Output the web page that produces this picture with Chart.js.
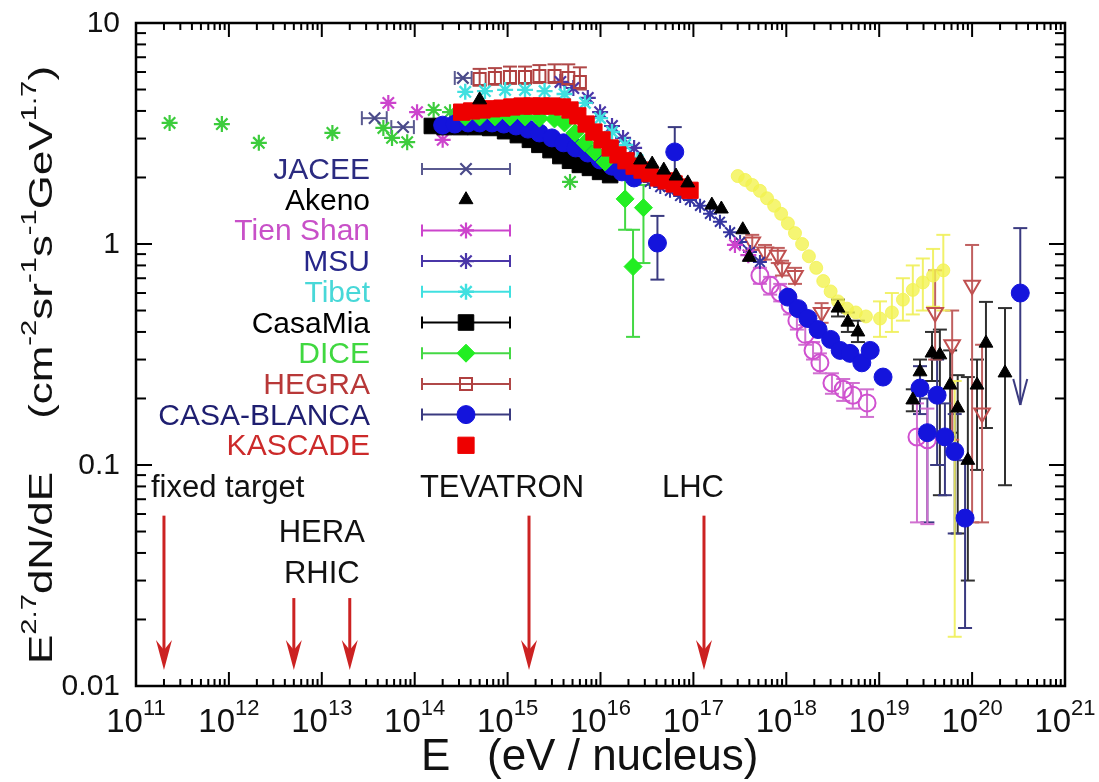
<!DOCTYPE html>
<html>
<head>
<meta charset="utf-8">
<title>Cosmic ray spectrum</title>
<script src="https://cdn.jsdelivr.net/npm/chart.js@4.4.0/dist/chart.umd.min.js"></script>
<style>
  html, body { margin: 0; padding: 0; background: #fff; }
  canvas { display: block; }
</style>
</head>
<body>
<canvas id="chart" width="1099" height="782"></canvas>
<script>
// ---- axis ticks ----
const xTickExps = [11, 12, 13, 14, 15, 16, 17, 18, 19, 20, 21];
const yTickValues = [0.01, 0.1, 1, 10];
const yTickLabels = ['0.01', '0.1', '1', '10'];

// ---- data (E in eV, flux E^2.7 dN/dE) ----
const directE = [2.3e11, 8.4e11, 2.1e12, 1.3e13, 4.6e13, 5.7e13, 8.3e13, 1.6e14, 2.4e14, 4.7e15];
const directF = [3.53, 3.49, 2.87, 3.18, 3.35, 3.02, 2.89, 4.04, 3.95, 1.91];

const jaceeE = [3.7e13, 7.5e13, 3.3e14];
const jaceeF = [3.71, 3.38, 5.64];
const jaceeXLo = [2.7e13, 5.6e13, 2.7e14];
const jaceeXHi = [5.0e13, 9.8e13, 4.1e14];

const akenoE = [5.0e14, 2.7e16, 3.6e16, 4.8e16, 6.5e16, 8.7e16, 1.58e17, 2.0e17, 3.4e17, 4.0e17,
  3.6e18, 4.6e18, 5.9e18, 2.3e19, 2.75e19, 3.7e19, 4.5e19, 5.8e19, 7.0e19, 9.0e19, 1.13e20, 1.41e20, 2.26e20];
const akenoF = [4.49, 2.40, 2.30, 2.16, 2.03, 1.89, 1.50, 1.44, 1.16, 0.87,
  0.513, 0.443, 0.40, 0.197, 0.264, 0.321, 0.315, 0.230, 0.181, 0.105, 0.230, 0.356, 0.261];
const akenoLo = [null, null, null, null, null, null, null, null, null, null,
  0.47, 0.40, 0.36, 0.175, 0.21, 0.24, 0.073, 0.14, 0.049, 0.030, 0.095, 0.147, 0.081];
const akenoHi = [null, null, null, null, null, null, null, null, null, null,
  0.56, 0.49, 0.45, 0.22, 0.30, 0.40, 0.41, 0.33, 0.255, 0.25, 0.30, 0.547, 0.513];

const tienShanE = [5.2e13, 1.06e14, 2.0e14, 2.8e17, 3.9e17];
const tienShanF = [4.35, 3.95, 2.96, 0.99, 0.89];

const msuE = [3.7e15, 5.1e15, 7.3e15, 9.9e15, 1.33e16, 1.75e16, 2.3e16];
const msuF = [5.41, 5.08, 4.58, 3.95, 3.42, 3.02, 2.72];

const tibetE = [3.5e14, 5.7e14, 9.4e14, 1.54e15, 2.5e15, 4.1e15, 6.8e15, 9.9e15, 1.33e16, 1.84e16, 2.5e16, 3.4e16];
const tibetF = [4.88, 4.92, 4.98, 4.98, 4.92, 4.77, 4.35, 3.71, 3.21, 2.81, 2.40, 2.05];

const casaMiaE = [1.53e14, 2.1e14, 3.1e14, 4.5e14, 6.5e14, 9.4e14, 1.29e15, 1.74e15, 2.2e15, 2.9e15,
  3.7e15, 4.7e15, 6.0e15, 7.7e15, 9.9e15, 1.27e16];
const casaMiaF = [3.42, 3.38, 3.38, 3.38, 3.35, 3.24, 3.11, 2.96, 2.81, 2.66,
  2.50, 2.38, 2.28, 2.21, 2.12, 2.05];

const diceE = [3.5e14, 5.0e14, 7.3e14, 1.06e15, 1.54e15, 2.2e15, 3.2e15, 4.1e15, 5.3e15, 6.8e15,
  8.7e15, 1.12e16, 1.84e16, 2.9e16, 2.24e16];
const diceF = [3.76, 3.76, 3.76, 3.76, 3.76, 3.71, 3.68, 3.53, 3.18, 2.87,
  2.61, 2.35, 1.60, 1.46, 0.79];
const diceLo = [null, null, null, null, null, null, null, null, null, null, null, null, 1.16, 0.82, 0.38];
const diceHi = [null, null, null, null, null, null, null, null, null, null, null, null, 2.05, 1.85, 1.16];

const hegraE = [5.0e14, 7.3e14, 1.06e15, 1.54e15, 2.2e15, 3.2e15, 4.5e15, 6.0e15];
const hegraF = [5.58, 5.64, 5.70, 5.70, 5.76, 5.76, 5.64, 5.41];
const hegraLo = [5.2, 5.25, 5.3, 5.3, 5.35, 5.35, 5.25, 5.0];
const hegraHi = [6.2, 6.25, 6.35, 6.35, 6.45, 6.5, 6.5, 6.3];

const casaBlancaE = [2.0e14, 2.7e14, 3.75e14, 5.0e14, 6.8e14, 9.1e14, 1.23e15, 1.66e15, 2.2e15, 3.0e15,
  4.0e15, 5.4e15, 7.3e15, 9.9e15, 1.33e16, 1.7e16, 2.3e16, 4.1e16, 6.3e16];
const casaBlancaF = [3.45, 3.49, 3.53, 3.53, 3.53, 3.49, 3.42, 3.31, 3.18, 3.02,
  2.87, 2.72, 2.58, 2.40, 2.25, 2.12, 1.99, 1.01, 2.61];
const casaBlancaLo = [null, null, null, null, null, null, null, null, null, null,
  null, null, null, null, null, null, null, 0.69, 2.01];
const casaBlancaHi = [null, null, null, null, null, null, null, null, null, null,
  null, null, null, null, null, null, null, 1.34, 3.38];

const kascadeE = [3.2e14, 4.1e14, 5.3e14, 6.8e14, 8.7e14, 1.11e15, 1.43e15, 1.83e15, 2.3e15, 3.0e15,
  3.9e15, 4.7e15, 5.7e15, 7.0e15, 8.5e15, 1.04e16, 1.27e16, 1.54e16, 1.88e16, 2.3e16,
  2.8e16, 3.4e16, 4.2e16, 5.1e16, 6.2e16, 7.5e16, 9.2e16];
const kascadeF = [3.95, 4.00, 4.04, 4.09, 4.12, 4.17, 4.21, 4.21, 4.21, 4.21,
  4.17, 4.04, 3.80, 3.49, 3.21, 2.96, 2.72, 2.53, 2.38, 2.25,
  2.16, 2.08, 1.99, 1.93, 1.87, 1.81, 1.75];

// unlabelled sets
const steepE = [3.4e16, 4.4e16, 5.6e16, 7.2e16, 9.2e16, 1.18e17, 1.51e17, 1.93e17, 2.48e17, 3.18e17, 4.07e17, 5.2e17];
const steepF = [1.91, 1.81, 1.74, 1.65, 1.58, 1.49, 1.37, 1.26, 1.13, 1.02, 0.92, 0.83];

const yellowE = [3.0e17, 3.6e17, 4.3e17, 5.2e17, 6.2e17, 7.4e17, 8.8e17, 1.04e18, 1.24e18, 1.48e18,
  1.75e18, 2.1e18, 2.5e18, 3.0e18, 3.6e18, 4.5e18, 5.6e18, 7.2e18, 1.02e19, 1.37e19,
  1.8e19, 2.3e19, 2.95e19, 3.8e19, 4.9e19, 6.5e19];
const yellowF = [2.03, 1.95, 1.85, 1.74, 1.61, 1.49, 1.37, 1.24, 1.12, 1.0,
  0.88, 0.78, 0.68, 0.61, 0.55, 0.51, 0.49, 0.47, 0.46, 0.49,
  0.56, 0.62, 0.67, 0.72, 0.76, 0.117];
const yellowLo = [null, null, null, null, null, null, null, null, null, null,
  null, null, null, null, null, null, null, null, 0.38, 0.40,
  0.45, 0.48, 0.50, 0.52, 0.50, 0.0167];
const yellowHi = [null, null, null, null, null, null, null, null, null, null,
  null, null, null, null, null, null, null, null, 0.55, 0.60,
  0.70, 0.80, 0.86, 0.95, 1.10, 0.24];

const openCircE = [5.2e17, 6.7e17, 8.6e17, 1.1e18, 1.3e18, 1.6e18, 1.94e18, 2.3e18, 3.1e18, 4.1e18, 5.2e18, 7.4e18, 2.55e19, 3.3e19];
const openCircF = [0.72, 0.65, 0.60, 0.53, 0.45, 0.39, 0.33, 0.29, 0.235, 0.22, 0.207, 0.191, 0.134, 0.130];
const openCircLo = [0.66, 0.59, 0.55, 0.48, 0.41, 0.35, 0.30, 0.26, 0.21, 0.195, 0.18, 0.165, 0.055, 0.054];
const openCircHi = [0.78, 0.71, 0.66, 0.58, 0.49, 0.43, 0.36, 0.32, 0.26, 0.245, 0.235, 0.22, 0.19, 0.18];

const downTriE = [4.3e17, 5.9e17, 8.1e17, 9.0e17, 1.24e18, 2.4e18, 4.0e19, 6.1e19, 1.0e20, 1.28e20];
const downTriF = [1.02, 0.92, 0.89, 0.78, 0.72, 0.49, 0.49, 0.35, 0.65, 0.172];
const downTriLo = [0.94, 0.85, 0.82, 0.72, 0.66, 0.44, 0.30, 0.13, 0.055, 0.055];
const downTriHi = [1.10, 0.99, 0.96, 0.84, 0.78, 0.54, 0.76, 0.50, 0.99, 0.35];

const blueHighE = [1.04e18, 1.34e18, 1.71e18, 2.2e18, 3.0e18, 3.8e18, 4.85e18, 6.5e18, 8.0e18, 1.1e19,
  2.75e19, 4.2e19, 3.3e19, 5.1e19, 6.5e19, 8.4e19];
const blueHighF = [0.575, 0.51, 0.46, 0.41, 0.37, 0.33, 0.32, 0.29, 0.33, 0.25,
  0.223, 0.207, 0.140, 0.134, 0.115, 0.0575];
const blueHighLo = [null, null, null, null, null, null, null, null, null, null,
  0.17, 0.10, 0.055, 0.073, 0.049, 0.0183];
const blueHighHi = [null, null, null, null, null, null, null, null, null, null,
  0.28, 0.30, 0.20, 0.19, 0.17, 0.105];

const blueLimitE = [3.3e20];
const blueLimitF = [0.60];
const blueLimitTop = [1.18];
const blueLimitBottom = [0.187];

// accelerator markers
const accelNames = ['fixed target', 'HERA', 'RHIC', 'TEVATRON', 'LHC'];
const accelE = [2e11, 5e12, 2e13, 1.7e15, 1.3e17];
const accelTop = [0.059, 0.025, 0.025, 0.059, 0.059];
const accelTip = 0.0118;

// ---- helpers ----
const FONT = "'Liberation Sans', Arial, Helvetica, sans-serif";

function pts(E, F) {
  return E.map((e, i) => ({ x: e, y: F[i] }));
}

function line(ctx, x1, y1, x2, y2) {
  ctx.beginPath();
  ctx.moveTo(x1, y1);
  ctx.lineTo(x2, y2);
  ctx.stroke();
}

// width of a list of {t, sup} runs
function richWidth(ctx, parts, size, supSize) {
  let w = 0;
  parts.forEach(p => {
    ctx.font = (p.sup ? supSize : size) + 'px ' + FONT;
    w += p.gap ? p.gap : ctx.measureText(p.t).width;
  });
  return w;
}
// draws the runs starting at x on baseline y
function richDraw(ctx, parts, x, y, size, supSize, rise) {
  parts.forEach(p => {
    if (p.gap) { x += p.gap; return; }
    ctx.font = (p.sup ? supSize : size) + 'px ' + FONT;
    ctx.fillText(p.t, x, p.sup ? y - rise : y);
    x += ctx.measureText(p.t).width;
  });
}

function mark(ctx, ds, x, y) {
  ctx.save();
  ctx.fillStyle = ds.backgroundColor;
  ctx.strokeStyle = ds.borderColor;
  ctx.lineWidth = ds.borderWidth;
  Chart.helpers.drawPoint(ctx, {
    pointStyle: ds.pointStyle,
    radius: ds.pointRadius,
    rotation: ds.rotation || 0,
    borderWidth: ds.borderWidth
  }, x, y);
  ctx.restore();
}

// ---- datasets (first one drawn on top) ----
const akeno = { label: 'Akeno', data: pts(akenoE, akenoF), pointStyle: 'triangle', pointRadius: 8,
  backgroundColor: '#000', borderColor: '#000', borderWidth: 1,
  srcE: akenoE, errLo: akenoLo, errHi: akenoHi, errColor: '#303030' };
const kascade = { label: 'KASCADE', data: pts(kascadeE, kascadeF), pointStyle: 'rect', pointRadius: 11.5,
  backgroundColor: '#ee0000', borderColor: '#ee0000', borderWidth: 1, srcE: kascadeE };
const dice = { label: 'DICE', data: pts(diceE, diceF), pointStyle: 'rectRot', pointRadius: 9,
  backgroundColor: '#22ee22', borderColor: '#22ee22', borderWidth: 1,
  srcE: diceE, errLo: diceLo, errHi: diceHi, errColor: '#44d844' };
const casaBlanca = { label: 'CASA-BLANCA', data: pts(casaBlancaE, casaBlancaF), pointStyle: 'circle', pointRadius: 9,
  backgroundColor: '#1414dc', borderColor: '#1414dc', borderWidth: 1,
  srcE: casaBlancaE, errLo: casaBlancaLo, errHi: casaBlancaHi, errColor: '#3a3a80' };
const casaMia = { label: 'CasaMia', data: pts(casaMiaE, casaMiaF), pointStyle: 'rect', pointRadius: 11,
  backgroundColor: '#000', borderColor: '#000', borderWidth: 1, srcE: casaMiaE };
const tibet = { label: 'Tibet', data: pts(tibetE, tibetF), pointStyle: 'star', pointRadius: 8,
  backgroundColor: '#40e0e0', borderColor: '#40e0e0', borderWidth: 2.4, srcE: tibetE };
const hegra = { label: 'HEGRA', data: pts(hegraE, hegraF), pointStyle: 'rect', pointRadius: 8.5,
  backgroundColor: 'rgba(0,0,0,0)', borderColor: '#b04040', borderWidth: 2,
  srcE: hegraE, errLo: hegraLo, errHi: hegraHi, errColor: '#b04848' };
const msu = { label: 'MSU', data: pts(msuE, msuF), pointStyle: 'star', pointRadius: 8,
  backgroundColor: '#4a36a8', borderColor: '#4a36a8', borderWidth: 2.2, srcE: msuE };
const tienShan = { label: 'Tien Shan', data: pts(tienShanE, tienShanF), pointStyle: 'star', pointRadius: 8,
  backgroundColor: '#cc44cc', borderColor: '#cc44cc', borderWidth: 2.2, srcE: tienShanE };
const jacee = { label: 'JACEE', data: pts(jaceeE, jaceeF), pointStyle: 'crossRot', pointRadius: 8,
  backgroundColor: '#4a4a8a', borderColor: '#4a4a8a', borderWidth: 2.2,
  srcE: jaceeE, srcF: jaceeF, xLo: jaceeXLo, xHi: jaceeXHi, errColor: '#5a5a90' };
const steep = { label: '', data: pts(steepE, steepF), pointStyle: 'star', pointRadius: 7,
  backgroundColor: '#3434a0', borderColor: '#3434a0', borderWidth: 2, srcE: steepE };
const direct = { label: '', data: pts(directE, directF), pointStyle: 'star', pointRadius: 8,
  backgroundColor: '#3ccc3c', borderColor: '#3ccc3c', borderWidth: 2.2, srcE: directE };
const blueHigh = { label: '', data: pts(blueHighE, blueHighF), pointStyle: 'circle', pointRadius: 9,
  backgroundColor: '#1414dc', borderColor: '#1414dc', borderWidth: 1,
  srcE: blueHighE, errLo: blueHighLo, errHi: blueHighHi, errColor: '#3a3a80' };
const blueLimit = { label: '', data: pts(blueLimitE, blueLimitF), pointStyle: 'circle', pointRadius: 9,
  backgroundColor: '#1414dc', borderColor: '#1414dc', borderWidth: 1, srcE: blueLimitE };
const openCirc = { label: '', data: pts(openCircE, openCircF), pointStyle: 'circle', pointRadius: 8.5,
  backgroundColor: 'rgba(0,0,0,0)', borderColor: '#d050d0', borderWidth: 2,
  srcE: openCircE, errLo: openCircLo, errHi: openCircHi, errColor: '#d070d0' };
const downTri = { label: '', data: pts(downTriE, downTriF), pointStyle: 'triangle', rotation: 180, pointRadius: 9,
  backgroundColor: 'rgba(0,0,0,0)', borderColor: '#c05050', borderWidth: 2,
  srcE: downTriE, errLo: downTriLo, errHi: downTriHi, errColor: '#c06060' };
const yellow = { label: '', data: pts(yellowE, yellowF), pointStyle: 'circle', pointRadius: 6.5,
  backgroundColor: 'rgba(242,242,80,0.8)', borderColor: 'rgba(242,242,80,0.8)', borderWidth: 1,
  srcE: yellowE, errLo: yellowLo, errHi: yellowHi, errColor: 'rgba(240,240,90,0.9)' };

const datasets = [akeno, blueLimit, kascade, dice, casaBlanca, casaMia, tibet, hegra, msu, tienShan,
  jacee, steep, direct, blueHigh, openCirc, downTri, yellow];

const legendRows = [
  { name: 'JACEE', color: '#2b2b80', ds: jacee, bar: true },
  { name: 'Akeno', color: '#000000', ds: akeno, bar: false },
  { name: 'Tien Shan', color: '#c850c8', ds: tienShan, bar: true },
  { name: 'MSU', color: '#26268a', ds: msu, bar: true },
  { name: 'Tibet', color: '#48d8d8', ds: tibet, bar: true },
  { name: 'CasaMia', color: '#000000', ds: casaMia, bar: true },
  { name: 'DICE', color: '#40d840', ds: dice, bar: true },
  { name: 'HEGRA', color: '#b83838', ds: hegra, bar: true },
  { name: 'CASA-BLANCA', color: '#1e1e70', ds: casaBlanca, bar: true },
  { name: 'KASCADE', color: '#cc2a2a', ds: kascade, bar: false }
];

// ---- error bars under the points ----
const errorBars = {
  id: 'errorBars',
  beforeDatasetsDraw(chart) {
    const ctx = chart.ctx, xs = chart.scales.x, ys = chart.scales.y;
    ctx.save();
    ctx.lineWidth = 2;
    chart.data.datasets.forEach(ds => {
      ctx.strokeStyle = ds.errColor || ds.borderColor;
      if (ds.errLo) {
        ds.errLo.forEach((lo, i) => {
          if (lo == null) return;
          const px = xs.getPixelForValue(ds.srcE[i]);
          const y1 = ys.getPixelForValue(ds.errHi[i]);
          const y2 = ys.getPixelForValue(lo);
          line(ctx, px, y1, px, y2);
          line(ctx, px - 7, y1, px + 7, y1);
          line(ctx, px - 7, y2, px + 7, y2);
        });
      }
      if (ds.xLo) {
        ds.xLo.forEach((lo, i) => {
          const py = ys.getPixelForValue(ds.srcF[i]);
          const x1 = xs.getPixelForValue(lo);
          const x2 = xs.getPixelForValue(ds.xHi[i]);
          line(ctx, x1, py, x2, py);
          line(ctx, x1, py - 7, x1, py + 7);
          line(ctx, x2, py - 7, x2, py + 7);
        });
      }
    });
    // upper-limit arrow of the last blue point
    ctx.strokeStyle = '#3a3a80';
    blueLimitE.forEach((e, i) => {
      const px = xs.getPixelForValue(e);
      const y1 = ys.getPixelForValue(blueLimitTop[i]);
      const y2 = ys.getPixelForValue(blueLimitBottom[i]);
      line(ctx, px, y1, px, y2);
      line(ctx, px - 7, y1, px + 7, y1);
      line(ctx, px - 7, y2 - 26, px, y2);
      line(ctx, px + 7, y2 - 26, px, y2);
    });
    ctx.restore();
  }
};

// ---- frame, ticks, labels, legend, annotations ----
const decor = {
  id: 'decor',
  afterDatasetsDraw(chart) {
    const ctx = chart.ctx, xs = chart.scales.x, ys = chart.scales.y;
    const a = chart.chartArea;
    ctx.save();

    // accelerator arrows and labels
    ctx.strokeStyle = '#cc2222';
    ctx.fillStyle = '#cc2222';
    ctx.lineWidth = 3;
    const tip = ys.getPixelForValue(accelTip);
    accelE.forEach((e, i) => {
      const px = xs.getPixelForValue(e);
      line(ctx, px, ys.getPixelForValue(accelTop[i]), px, tip - 10);
      ctx.beginPath();
      ctx.moveTo(px, tip);
      ctx.lineTo(px - 8, tip - 30);
      ctx.lineTo(px, tip - 20);
      ctx.lineTo(px + 8, tip - 30);
      ctx.closePath();
      ctx.fill();
    });
    ctx.fillStyle = '#111';
    ctx.font = '31px ' + FONT;
    ctx.textBaseline = 'alphabetic';
    const pFix = xs.getPixelForValue(accelE[0]);
    const pHera = xs.getPixelForValue(accelE[1]);
    const pRhic = xs.getPixelForValue(accelE[2]);
    const pTev = xs.getPixelForValue(accelE[3]);
    const pLhc = xs.getPixelForValue(accelE[4]);
    ctx.textAlign = 'left';
    ctx.fillText(accelNames[0], pFix - 13, 497);
    ctx.textAlign = 'center';
    ctx.fillText(accelNames[1], (pHera + pRhic) / 2, 542);
    ctx.fillText(accelNames[2], (pHera + pRhic) / 2, 583);
    ctx.fillText(accelNames[3], pTev - 27, 497);
    ctx.fillText(accelNames[4], pLhc - 11, 497);

    // legend
    ctx.font = '30px ' + FONT;
    ctx.textAlign = 'right';
    legendRows.forEach((r, i) => {
      const base = 179 + i * 30.7;
      const my = base - 10;
      ctx.fillStyle = r.color;
      ctx.fillText(r.name, 370, base);
      if (r.bar) {
        ctx.strokeStyle = r.ds.errColor || r.ds.borderColor;
        ctx.lineWidth = 2;
        line(ctx, 422, my, 510, my);
        line(ctx, 422, my - 6, 422, my + 6);
        line(ctx, 510, my - 6, 510, my + 6);
      }
      mark(ctx, r.ds, 466, my);
    });

    // frame
    ctx.strokeStyle = '#000';
    ctx.lineWidth = 2.5;
    ctx.strokeRect(a.left, a.top, a.right - a.left, a.bottom - a.top);

    // ticks (inward on all four sides)
    ctx.lineWidth = 2;
    for (let d = 11; d <= 21; d++) {
      for (let m = 1; m <= 9; m++) {
        const v = m * Math.pow(10, d);
        if (v > 1e21 * 1.0001) break;
        const px = xs.getPixelForValue(v);
        const len = m === 1 ? 14 : 7;
        line(ctx, px, a.bottom, px, a.bottom - len);
        line(ctx, px, a.top, px, a.top + len);
      }
    }
    for (let d = -2; d <= 1; d++) {
      for (let m = 1; m <= 9; m++) {
        const v = m * Math.pow(10, d);
        if (v > 10.0001) break;
        const py = ys.getPixelForValue(v);
        const len = m === 1 ? 16 : 10;
        line(ctx, a.left, py, a.left + len, py);
        line(ctx, a.right, py, a.right - len, py);
      }
    }

    // y tick labels
    ctx.fillStyle = '#111';
    ctx.font = '30px ' + FONT;
    ctx.textAlign = 'right';
    ctx.textBaseline = 'middle';
    yTickValues.forEach((v, i) => {
      ctx.fillText(yTickLabels[i], a.left - 16, ys.getPixelForValue(v) + 1);
    });

    // x tick labels: 10^n
    ctx.textAlign = 'left';
    ctx.textBaseline = 'alphabetic';
    xTickExps.forEach(n => {
      const parts = [{ t: '10' }, { t: String(n), sup: true }];
      const w = richWidth(ctx, parts, 33, 22);
      const px = xs.getPixelForValue(Math.pow(10, n));
      richDraw(ctx, parts, px - w / 2, a.bottom + 46, 33, 22, 17);
    });

    // x title
    ctx.font = '44px ' + FONT;
    ctx.fillText('E', 421, 770);
    ctx.fillText('(eV / nucleus)', 487, 770);

    // y title (rotated, fitted to its span)
    const yParts = [
      { t: 'E' }, { t: '2.7', sup: true }, { t: 'dN/dE' }, { gap: 40 },
      { t: '(cm' }, { t: '-2', sup: true }, { t: 'sr' }, { t: '-1', sup: true },
      { t: 's' }, { t: '-1', sup: true }, { t: 'GeV' }, { t: '1.7', sup: true }, { t: ')' }
    ];
    const natural = richWidth(ctx, yParts, 33, 22);
    ctx.save();
    ctx.translate(52, 664);
    ctx.rotate(-Math.PI / 2);
    ctx.scale(598 / natural, 1);
    richDraw(ctx, yParts, 0, 0, 33, 22, 16);
    ctx.restore();

    ctx.restore();
  }
};

new Chart(document.getElementById('chart'), {
  type: 'scatter',
  data: { datasets: datasets },
  options: {
    responsive: false,
    animation: false,
    devicePixelRatio: 1,
    layout: { padding: { left: 136, right: 34, top: 23, bottom: 96 } },
    plugins: { legend: { display: false }, tooltip: { enabled: false } },
    scales: {
      x: { type: 'logarithmic', min: 1e11, max: 1e21, display: false },
      y: { type: 'logarithmic', min: 0.01, max: 10, display: false }
    }
  },
  plugins: [errorBars, decor]
});
</script>
</body>
</html>
